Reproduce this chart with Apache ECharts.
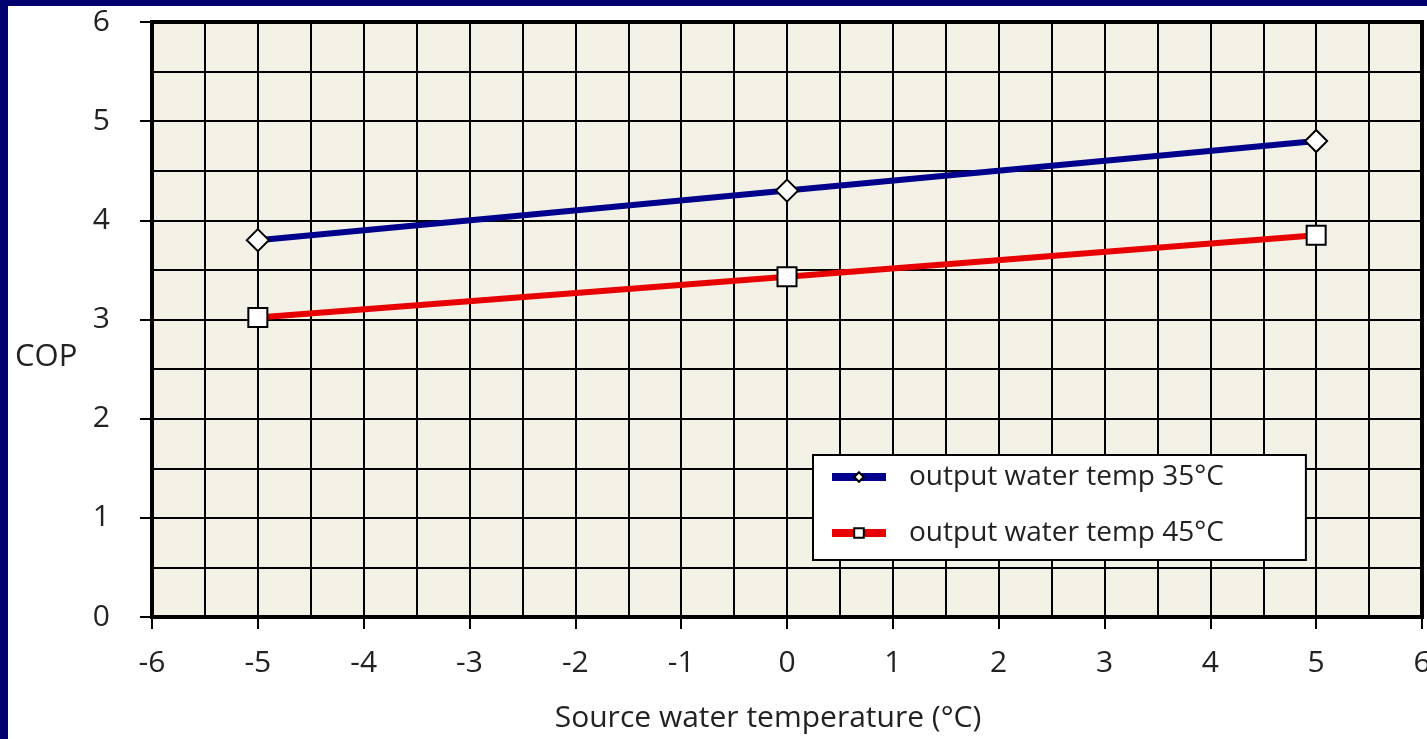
<!DOCTYPE html>
<html>
<head>
<meta charset="utf-8">
<script src="https://cdn.jsdelivr.net/npm/echarts@6/dist/echarts.min.js"></script>
<style>
  html, body { margin: 0; padding: 0; width: 1427px; height: 739px; background: #000070; overflow: hidden; }
  #chart { position: absolute; left: 8px; top: 6px; width: 1419px; height: 733px; background: #ffffff; }
</style>
</head>
<body>
<div id="chart"></div>
<script>
// Data
const sourceTemps = [-5, 0, 5];
const cop35 = [3.8, 4.3, 4.8];
const cop45 = [3.02, 3.43, 3.85];
const seriesNames = ['output water temp 35°C', 'output water temp 45°C'];
const xTitle = 'Source water temperature (°C)';
const yTitle = 'COP';

const FONT = 'Open Sans';
const TXT = '#222222';

const chart = echarts.init(document.getElementById('chart'), null, { renderer: 'canvas' });

function pairs(xs, ys) { return xs.map((x, i) => [x, ys[i]]); }

const gridLine = { show: true, lineStyle: { color: '#000', width: 2 } };

chart.setOption({
  animation: false,
  backgroundColor: '#ffffff',
  grid: {
    left: 144, right: 5, top: 16, bottom: 122,
    outerBoundsMode: 'none', containLabel: false,
    show: true, backgroundColor: '#F3F1E6', borderColor: '#000', borderWidth: 4
  },
  xAxis: {
    type: 'value', min: -6, max: 6, interval: 1,
    name: xTitle, nameLocation: 'middle', nameGap: 86,
    nameTextStyle: { fontFamily: FONT, fontSize: 30, color: TXT, padding: [0, 38, 0, 0] },
    axisLine: { show: true, onZero: false, lineStyle: { color: '#000', width: 4 } },
    axisTick: { show: true, length: 12, lineStyle: { color: '#000', width: 2 } },
    axisLabel: { fontFamily: FONT, fontSize: 30, color: TXT, margin: 31, hideOverlap: false },
    splitLine: gridLine,
    minorTick: { show: false, splitNumber: 2 },
    minorSplitLine: gridLine
  },
  yAxis: {
    type: 'value', min: 0, max: 6, interval: 1,
    axisLine: { show: true, onZero: false, lineStyle: { color: '#000', width: 4 } },
    axisTick: { show: true, length: 12, lineStyle: { color: '#000', width: 2 } },
    axisLabel: { fontFamily: FONT, fontSize: 30, color: TXT, margin: 42 },
    splitLine: gridLine,
    minorTick: { show: false, splitNumber: 2 },
    minorSplitLine: gridLine
  },
  legend: {
    orient: 'vertical',
    left: 805, top: 449,
    backgroundColor: '#ffffff', borderColor: '#000', borderWidth: 2,
    padding: [7, 82, 12, 15],
    itemWidth: 54, itemHeight: 12, itemGap: 26,
    lineStyle: { width: 8 },
    textStyle: { fontFamily: FONT, fontSize: 28, color: TXT, lineHeight: 30, padding: [0, 0, 0, 18] },
    data: seriesNames
  },
  graphic: [{
    type: 'text', left: 7, top: 336,
    style: { text: yTitle, fontFamily: FONT, fontSize: 31, fill: TXT }
  }],
  series: [
    {
      name: seriesNames[0], type: 'line', data: pairs(sourceTemps, cop35),
      symbol: 'diamond', symbolSize: 22,
      lineStyle: { color: '#00008C', width: 6 },
      itemStyle: { color: '#ffffff', borderColor: '#000', borderWidth: 2 },
      z: 5
    },
    {
      name: seriesNames[1], type: 'line', data: pairs(sourceTemps, cop45),
      symbol: 'rect', symbolSize: 19,
      lineStyle: { color: '#E80000', width: 6 },
      itemStyle: { color: '#ffffff', borderColor: '#000', borderWidth: 2 },
      z: 5
    }
  ]
});
</script>
</body>
</html>
